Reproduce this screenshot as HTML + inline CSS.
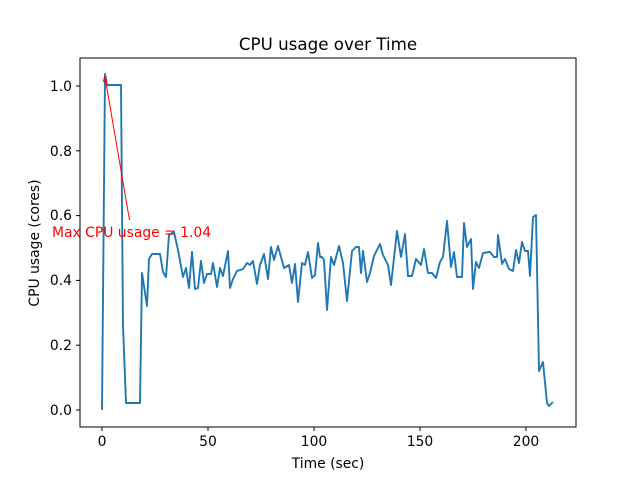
<!DOCTYPE html>
<html><head><meta charset="utf-8"><style>body{margin:0;background:#fff}svg{display:block}text{font-family:"DejaVu Sans","Liberation Sans",sans-serif}</style></head><body>
<svg width="640" height="480" viewBox="0 0 640 480" xmlns="http://www.w3.org/2000/svg">
<rect width="640" height="480" fill="#fff"/>
<text x="328" y="50" font-size="16.7" text-anchor="middle" fill="#000">CPU usage over Time</text>
<polyline fill="none" stroke="#1f77b4" stroke-width="1.9" stroke-linejoin="round" points="102,410 105,74 107,85 121,85 123,325 126,403 140,403 142,273 147,306 149,259 152,254 160,254 163,272 166,277 169,235 174,232 178,250 183,277 186,268 189,288 192,252 195,289 198,288 201,261 204,283 207,274 211,274 213,263 217,287 220,268 223,276 228,251 230,288 233,279 237,271 243,269 247,263 250,265 253,261 257,284 260,265 264,254 268,279 271,247 274,260 278,246 284,268 289,265 292,283 295,264 298,302 302,263 305,265 308,252 312,278 315,275 318,243 320,257 322,257 324,260 327,310 331,257 334,265 339,246 343,263 347,301 352,251 356,247 359,247 361,273 363,251 367,282 370,273 374,256 380,244 383,255 388,265 391,285 397,231 401,257 405,234 408,276 412,276 416,259 421,265 424,249 428,273 432,273 436,278 440,262 443,257 447,221 451,267 454,252 457,277 462,277 464,223 467,247 471,239 473,289 476,262 479,268 483,253 490,252 494,257 497,257 498,235 502,264 505,259 509,269 513,271 516,250 519,263 522,242 525,251 528,251 530,276 533,217 536,215 539,371 543,362 547,403 549,406 553,402"/>
<line x1="129.5" y1="220" x2="105.5" y2="80" stroke="#f00" stroke-width="1"/>
<polygon points="104.5,75 102.8,82 107.3,81.3" fill="#f00"/>
<text x="52" y="237" font-size="13.9" fill="#f00">Max CPU usage = 1.04</text>
<rect x="80" y="58" width="496" height="369" fill="none" stroke="#000" stroke-width="1"/>
<g stroke="#000" stroke-width="1">
<line x1="102" y1="427" x2="102" y2="431"/><line x1="208" y1="427" x2="208" y2="431"/><line x1="314" y1="427" x2="314" y2="431"/><line x1="420" y1="427" x2="420" y2="431"/><line x1="526" y1="427" x2="526" y2="431"/>
<line x1="76" y1="410" x2="80" y2="410"/><line x1="76" y1="345.2" x2="80" y2="345.2"/><line x1="76" y1="280.4" x2="80" y2="280.4"/><line x1="76" y1="215.6" x2="80" y2="215.6"/><line x1="76" y1="150.8" x2="80" y2="150.8"/><line x1="76" y1="86" x2="80" y2="86"/>
</g>
<g font-size="13.9" fill="#000" text-anchor="middle">
<text x="102" y="446">0</text><text x="208" y="446">50</text><text x="314" y="446">100</text><text x="420" y="446">150</text><text x="526" y="446">200</text>
<text x="328" y="468">Time (sec)</text>
</g>
<g font-size="13.9" fill="#000" text-anchor="end">
<text x="72" y="415">0.0</text><text x="72" y="350">0.2</text><text x="72" y="285">0.4</text><text x="72" y="220">0.6</text><text x="72" y="156">0.8</text><text x="72" y="91">1.0</text>
</g>
<text transform="translate(39,243) rotate(-90)" font-size="13.9" text-anchor="middle" fill="#000">CPU usage (cores)</text>
</svg>
</body></html>
